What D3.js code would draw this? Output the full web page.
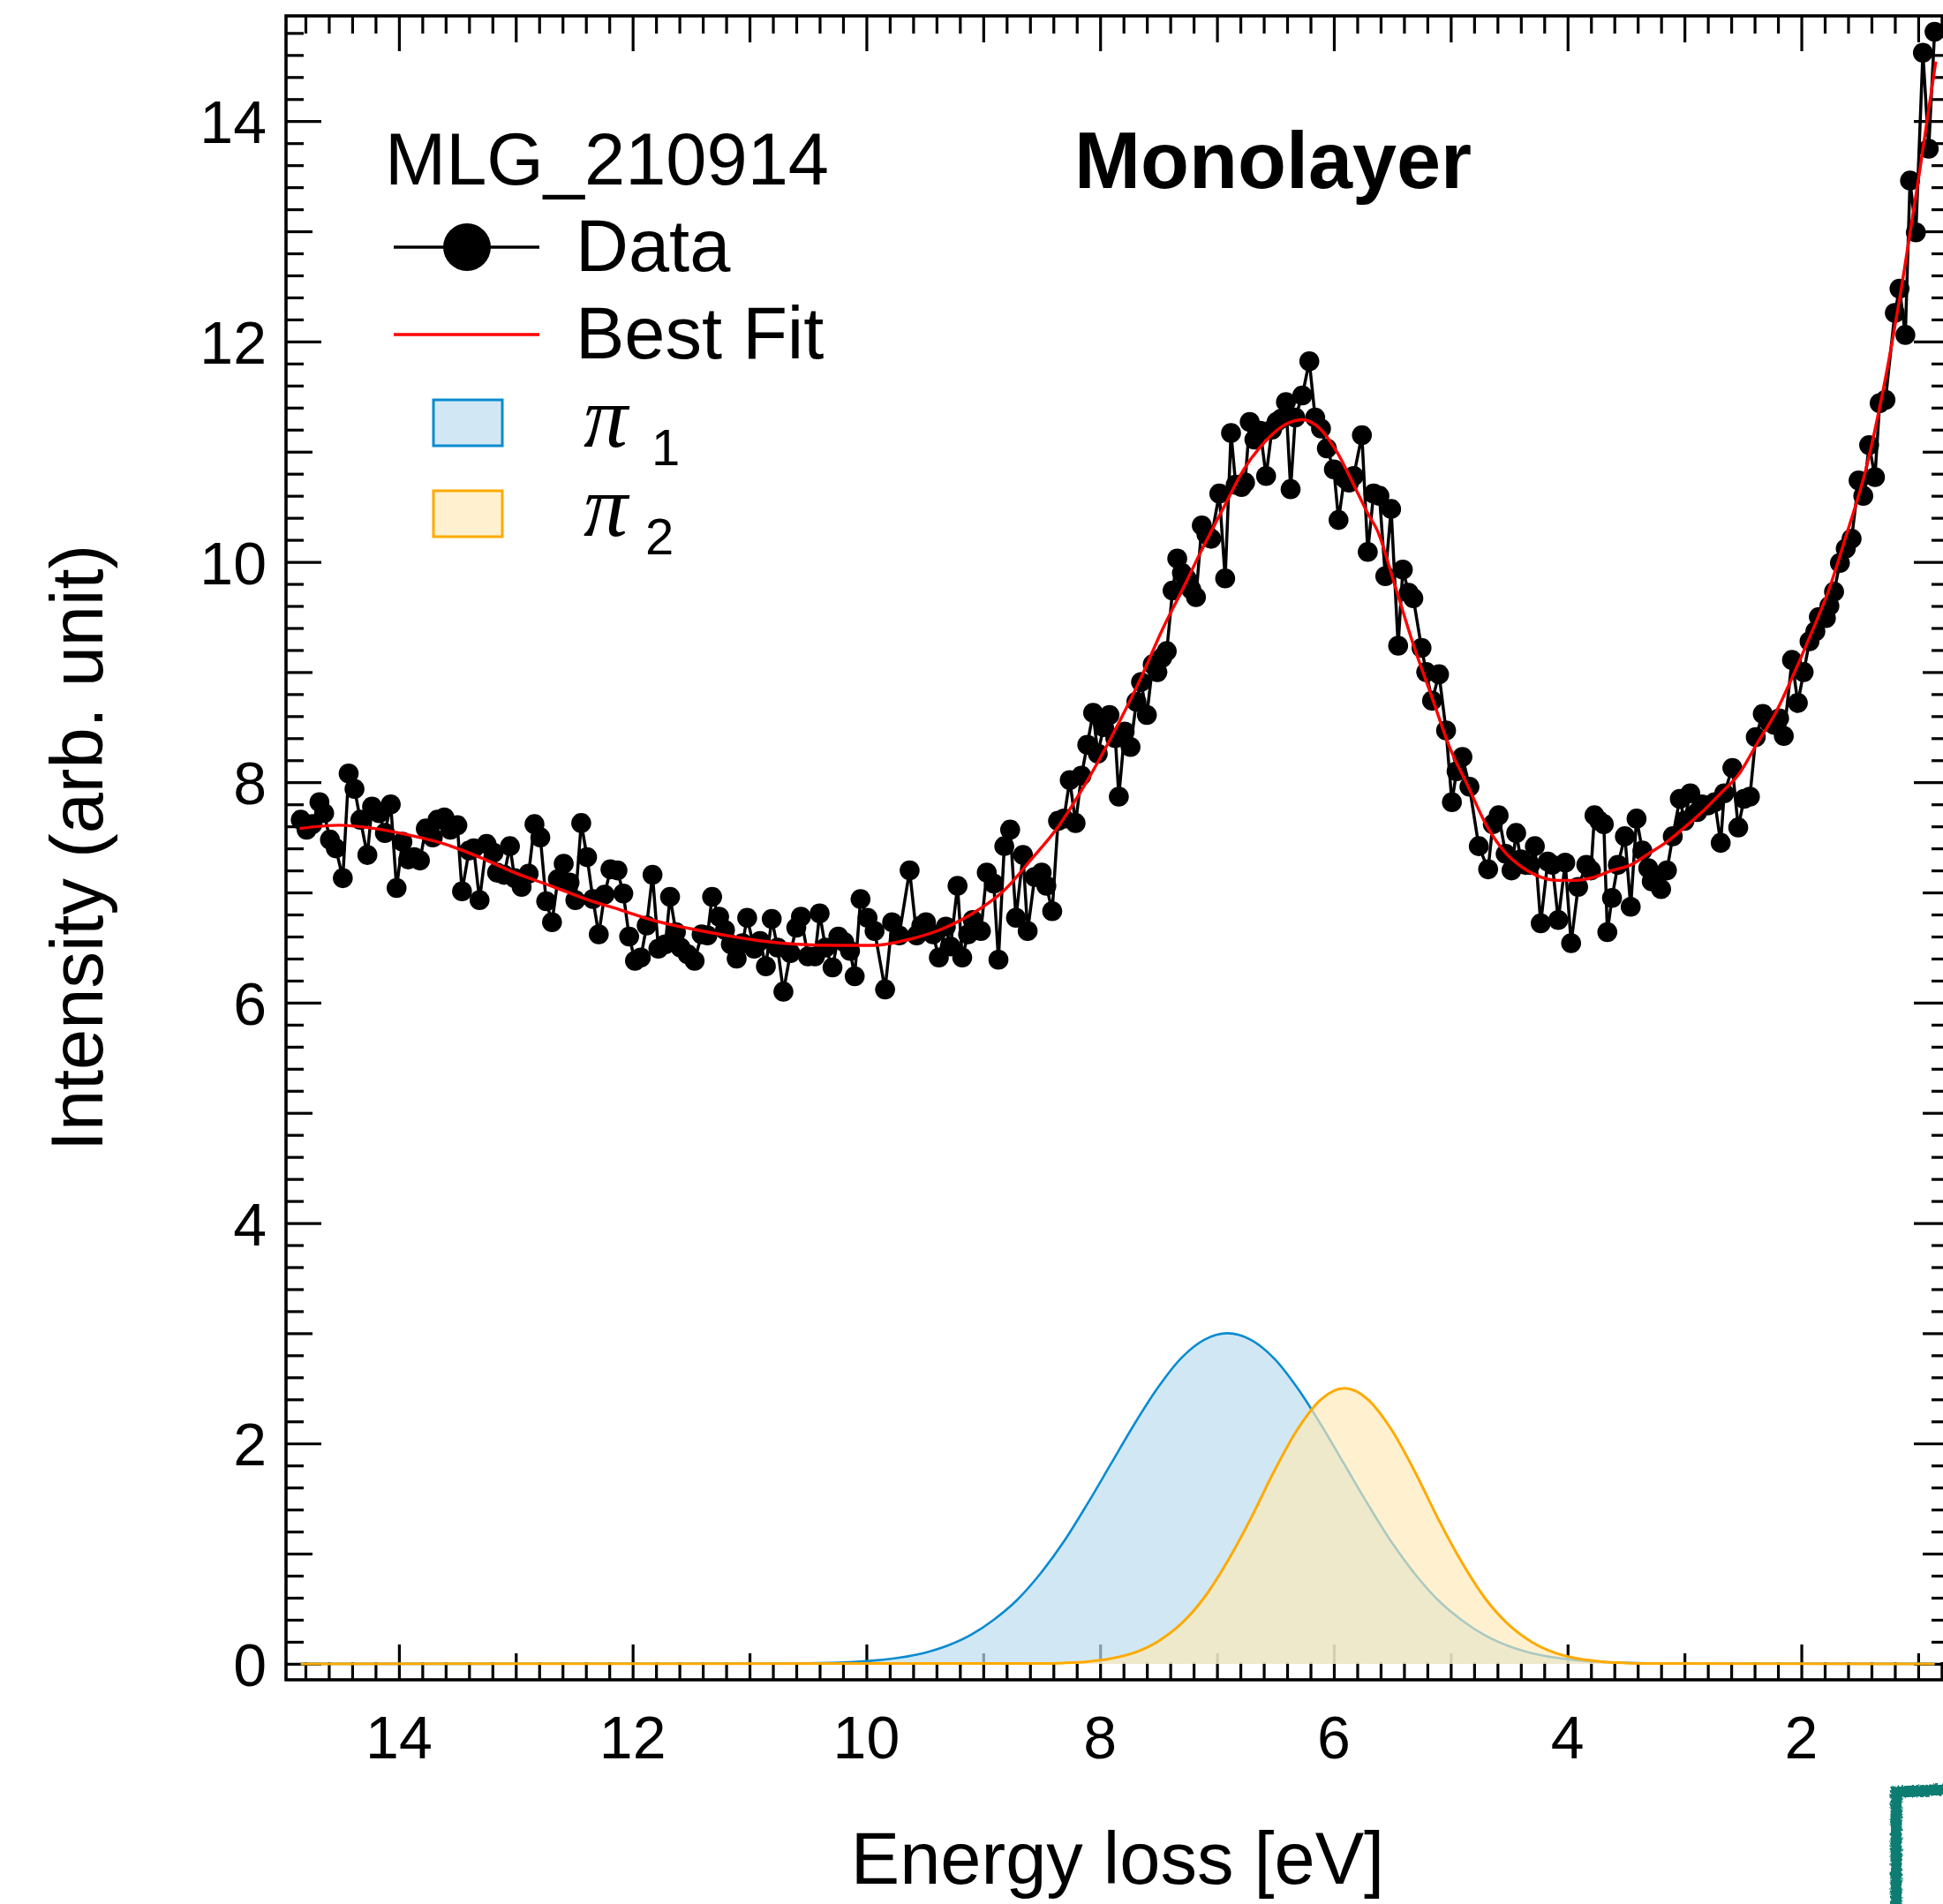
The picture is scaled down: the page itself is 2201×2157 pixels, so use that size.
<!DOCTYPE html>
<html>
<head>
<meta charset="utf-8">
<script src="https://cdn.jsdelivr.net/npm/d3@7"></script>
<style>
html,body{margin:0;padding:0;background:#fff;overflow:hidden}
text{font-family:"Liberation Sans",Helvetica,Arial,sans-serif;fill:#000}
</style>
</head>
<body>
<svg id="chart" width="2201" height="2157"></svg>
<script>
// ---------------- data ----------------
const sampleName = "MLG_210914";
const panelTitle = "Monolayer";
const xTitle = "Energy loss [eV]";
const yTitle = "Intensity (arb. unit)";
const legendLabels = ["Data", "Best Fit", "1", "2"];
const xTickValues = [14, 12, 10, 8, 6, 4, 2];
const yTickValues = [0, 2, 4, 6, 8, 10, 12, 14];

// measured points: [energy loss (eV), intensity]
const dataPoints = [
[14.84,7.66],[14.79,7.57],[14.74,7.62],[14.68,7.82],[14.64,7.72],[14.59,7.48],[14.54,7.40],[14.48,7.13],[14.43,8.08],[14.38,7.94],
[14.33,7.66],[14.27,7.34],[14.23,7.78],[14.17,7.72],[14.12,7.54],[14.07,7.80],[14.02,7.04],[13.97,7.46],[13.92,7.30],[13.87,7.32],
[13.82,7.29],[13.77,7.58],[13.71,7.50],[13.67,7.66],[13.61,7.68],[13.56,7.57],[13.50,7.61],[13.46,7.01],[13.40,7.38],[13.36,7.40],
[13.31,6.93],[13.25,7.44],[13.19,7.36],[13.16,7.18],[13.10,7.16],[13.05,7.42],[13.01,7.13],[12.95,7.05],[12.89,7.17],[12.84,7.62],
[12.79,7.50],[12.74,6.92],[12.69,6.73],[12.64,7.12],[12.59,7.26],[12.54,7.09],[12.49,6.93],[12.44,7.63],[12.39,7.32],[12.34,6.94],
[12.29,6.62],[12.24,6.98],[12.19,7.21],[12.13,7.20],[12.08,6.99],[12.03,6.60],[11.98,6.38],[11.93,6.41],[11.88,6.70],[11.83,7.16],
[11.78,6.49],[11.72,6.53],[11.68,6.96],[11.63,6.64],[11.59,6.50],[11.53,6.44],[11.47,6.38],[11.41,6.62],[11.36,6.61],[11.32,6.96],
[11.26,6.78],[11.21,6.66],[11.16,6.53],[11.11,6.40],[11.06,6.54],[11.02,6.77],[10.96,6.49],[10.91,6.56],[10.86,6.33],[10.81,6.76],
[10.76,6.50],[10.71,6.10],[10.65,6.45],[10.60,6.68],[10.56,6.78],[10.50,6.42],[10.44,6.42],[10.40,6.81],[10.35,6.50],[10.29,6.32],
[10.24,6.60],[10.19,6.55],[10.14,6.47],[10.10,6.24],[10.05,6.94],[9.99,6.77],[9.93,6.65],[9.84,6.12],[9.78,6.73],[9.72,6.61],
[9.63,7.20],[9.57,6.61],[9.53,6.70],[9.49,6.73],[9.43,6.62],[9.38,6.41],[9.32,6.69],[9.28,6.51],[9.22,7.06],[9.18,6.41],
[9.13,6.62],[9.09,6.75],[9.02,6.65],[8.97,7.18],[8.91,7.08],[8.87,6.39],[8.82,7.42],[8.77,7.57],[8.72,6.77],[8.66,7.34],
[8.62,6.65],[8.56,7.14],[8.50,7.18],[8.46,7.06],[8.41,6.83],[8.36,7.65],[8.31,7.67],[8.26,8.02],[8.21,7.63],[8.16,8.06],
[8.11,8.34],[8.06,8.63],[8.02,8.26],[7.97,8.50],[7.92,8.61],[7.87,8.40],[7.84,7.87],[7.79,8.46],[7.74,8.32],[7.69,8.73],
[7.65,8.91],[7.60,8.61],[7.55,9.07],[7.51,9.00],[7.47,9.13],[7.43,9.19],[7.38,9.74],[7.34,10.03],[7.30,9.90],[7.26,9.85],
[7.22,9.75],[7.18,9.68],[7.13,10.33],[7.09,10.25],[7.05,10.21],[6.98,10.62],[6.93,9.85],[6.88,11.17],[6.84,10.70],[6.79,10.68],
[6.76,10.72],[6.72,11.27],[6.68,11.11],[6.63,11.19],[6.58,10.78],[6.53,11.20],[6.49,11.27],[6.45,11.30],[6.41,11.45],[6.37,10.66],
[6.33,11.31],[6.27,11.51],[6.21,11.82],[6.16,11.31],[6.11,11.21],[6.06,11.03],[6.00,10.84],[5.96,10.38],[5.91,10.76],[5.87,10.72],
[5.83,10.78],[5.76,11.15],[5.71,10.09],[5.66,10.62],[5.61,10.60],[5.56,9.87],[5.51,10.48],[5.45,9.24],[5.41,9.93],[5.36,9.72],
[5.32,9.67],[5.25,9.22],[5.21,9.00],[5.16,8.74],[5.10,8.98],[5.04,8.47],[4.99,7.82],[4.95,8.10],[4.90,8.23],[4.84,7.96],
[4.76,7.42],[4.68,7.21],[4.64,7.62],[4.59,7.70],[4.53,7.35],[4.48,7.20],[4.44,7.54],[4.40,7.30],[4.36,7.25],[4.32,7.25],
[4.28,7.42],[4.23,6.72],[4.17,7.28],[4.13,7.25],[4.08,6.75],[4.02,7.27],[3.97,6.54],[3.91,7.05],[3.84,7.25],[3.80,7.20],
[3.77,7.70],[3.73,7.65],[3.69,7.62],[3.66,6.64],[3.62,6.95],[3.57,7.25],[3.51,7.51],[3.46,6.87],[3.41,7.67],[3.36,7.38],
[3.31,7.22],[3.28,7.10],[3.24,7.14],[3.20,7.03],[3.15,7.20],[3.10,7.51],[3.04,7.85],[3.00,7.65],[2.95,7.90],[2.89,7.73],
[2.85,7.80],[2.80,7.79],[2.74,7.82],[2.69,7.45],[2.66,7.90],[2.59,8.13],[2.54,7.59],[2.49,7.85],[2.44,7.87],[2.39,8.41],
[2.33,8.62],[2.28,8.55],[2.23,8.52],[2.19,8.58],[2.15,8.42],[2.08,9.11],[2.03,8.72],[1.98,9.00],[1.93,9.28],[1.88,9.37],
[1.85,9.50],[1.79,9.49],[1.76,9.60],[1.72,9.73],[1.67,9.99],[1.62,10.12],[1.57,10.21],[1.51,10.74],[1.47,10.60],[1.42,11.06],
[1.37,10.77],[1.33,11.44],[1.28,11.47],[1.20,12.26],[1.16,12.48],[1.11,12.06],[1.07,13.46],[1.02,12.99],[0.96,14.62],[0.91,13.75],
[0.86,14.81]
];

// best fit curve
const fitCurve = [
[14.85,7.58],[14.51,7.61],[14.21,7.58],[13.91,7.52],[13.61,7.44],[13.31,7.32],[13.01,7.18],[12.70,7.06],[12.40,6.94],[12.10,6.84],
[11.80,6.74],[11.50,6.67],[11.20,6.61],[10.90,6.56],[10.59,6.53],[10.24,6.52],[9.94,6.52],[9.65,6.57],[9.35,6.67],[9.06,6.83],
[8.82,7.02],[8.59,7.30],[8.35,7.61],[8.18,7.89],[8.00,8.22],[7.83,8.56],[7.65,8.95],[7.47,9.38],[7.30,9.74],[7.12,10.13],
[6.94,10.50],[6.77,10.84],[6.59,11.09],[6.41,11.25],[6.27,11.29],[6.12,11.21],[5.97,10.99],[5.83,10.70],[5.71,10.44],[5.63,10.29],
[5.47,9.76],[5.32,9.25],[5.16,8.77],[5.01,8.32],[4.85,7.96],[4.70,7.62],[4.54,7.37],[4.39,7.23],[4.23,7.14],[4.08,7.11],
[3.93,7.11],[3.77,7.14],[3.62,7.20],[3.46,7.25],[3.31,7.35],[3.15,7.46],[3.00,7.59],[2.84,7.74],[2.69,7.90],[2.53,8.08],
[2.38,8.35],[2.22,8.63],[2.07,8.97],[1.92,9.34],[1.76,9.76],[1.61,10.26],[1.45,10.83],[1.30,11.56],[1.14,12.51],[0.99,13.53],
[0.85,14.54]
];

// pi1 component
const pi1Energy = [14.84,10.71,10.51,10.31,10.11,9.91,9.71,9.51,9.31,9.11,8.91,8.71,8.51,8.31,8.11,7.91,7.71,7.51,7.31,7.11,
  6.91,6.71,6.51,6.31,6.11,5.91,5.71,5.51,5.31,5.11,4.91,4.71,4.51,4.31,4.11,3.91,3.71,3.51,3.31,3.11,0.86];
const pi1Value = [0,0.002,0.004,0.009,0.017,0.032,0.057,0.098,0.163,0.26,0.40,0.58,0.82,1.11,1.45,1.81,2.17,2.50,2.77,2.94,
  3.00,2.94,2.77,2.50,2.17,1.81,1.45,1.11,0.82,0.58,0.40,0.26,0.163,0.098,0.057,0.032,0.017,0.009,0.004,0.002,0];

// pi2 component
const pi2Energy = [14.84,8.51,8.31,8.11,7.91,7.71,7.51,7.31,7.11,6.91,6.71,6.51,6.31,6.11,5.91,5.71,5.51,5.31,5.11,4.91,
  4.71,4.51,4.31,4.11,3.91,3.71,3.51,3.31,0.86];
const pi2Value = [0,0.003,0.008,0.02,0.047,0.10,0.20,0.36,0.60,0.93,1.32,1.75,2.13,2.40,2.50,2.40,2.13,1.75,1.32,0.93,
  0.60,0.36,0.20,0.10,0.047,0.02,0.008,0.003,0];

// ---------------- drawing ----------------
const svg = d3.select("#chart");
const plot = {left: 324, right: 2208, top: 18, bottom: 1903};
const x = d3.scaleLinear().domain([14.966, 0.735]).range([plot.left, plot.right]);
const y = d3.scaleLinear().domain([-0.145, 14.955]).range([plot.bottom, plot.top]);

const COL_BLUE = "#0a8bd0", COL_ORANGE = "#ffaa00";
const FILL_BLUE = "rgb(190,222,240)", FILL_ORANGE = "rgb(255,233,184)";

// ticks (inward on all four sides): minor every 0.2, medium at odd, major at even
const xTickAll = d3.range(4, 75).map(i => i / 5);
const yTickAll = d3.range(0, 75).map(i => i / 5);
function cls(v) { const i = Math.round(v * 5); return i % 10 === 0 ? 40 : (i % 5 === 0 ? 30 : 20); }
const tickG = svg.append("g").attr("class", "ticks");
[20, 30, 40].forEach(len => {
  const xv = xTickAll.filter(v => cls(v) === len);
  const yv = yTickAll.filter(v => cls(v) === len);
  tickG.append("g").attr("transform", `translate(0,${plot.bottom})`).call(d3.axisBottom(x).tickValues(xv).tickSize(-len).tickFormat(""));
  tickG.append("g").attr("transform", `translate(0,${plot.top})`).call(d3.axisTop(x).tickValues(xv).tickSize(-len).tickFormat(""));
  tickG.append("g").attr("transform", `translate(${plot.left},0)`).call(d3.axisLeft(y).tickValues(yv).tickSize(-len).tickFormat(""));
  tickG.append("g").attr("transform", `translate(${plot.right},0)`).call(d3.axisRight(y).tickValues(yv).tickSize(-len).tickFormat(""));
});
tickG.selectAll(".domain").remove();
tickG.selectAll(".tick line").attr("stroke", "#000").attr("stroke-width", 3.2);

// frame
svg.append("rect").attr("x", plot.left).attr("y", plot.top)
  .attr("width", plot.right - plot.left).attr("height", plot.bottom - plot.top)
  .attr("fill", "none").attr("stroke", "#000").attr("stroke-width", 3.6);

// tick labels
svg.append("g").selectAll("text").data(xTickValues).join("text")
  .attr("x", d => x(d)).attr("y", 1992).attr("text-anchor", "middle")
  .attr("font-size", 68).text(d => d);
svg.append("g").selectAll("text").data(yTickValues).join("text")
  .attr("x", 302).attr("y", d => y(d) + 25).attr("text-anchor", "end")
  .attr("font-size", 68).text(d => d);

// axis titles
svg.append("text").attr("x", (plot.left + plot.right) / 2).attr("y", 2134)
  .attr("text-anchor", "middle").attr("font-size", 83).text(xTitle);
svg.append("text").attr("transform", `translate(116,${(plot.top + plot.bottom) / 2}) rotate(-90)`)
  .attr("text-anchor", "middle").attr("font-size", 83).text(yTitle);

// components
const clip = svg.append("clipPath").attr("id", "clip").append("rect")
  .attr("x", plot.left).attr("y", plot.top).attr("width", plot.right - plot.left).attr("height", plot.bottom - plot.top);
const layer = svg.append("g").attr("clip-path", "url(#clip)");

const pi1 = pi1Energy.map((e, i) => [e, pi1Value[i]]);
const pi2 = pi2Energy.map((e, i) => [e, pi2Value[i]]);
const area = d3.area().x(d => x(d[0])).y0(y(0)).y1(d => y(d[1])).curve(d3.curveMonotoneX);
const line = d3.line().x(d => x(d[0])).y(d => y(d[1])).curve(d3.curveMonotoneX);

layer.append("path").datum(pi1).attr("d", area).attr("fill", FILL_BLUE).attr("fill-opacity", 0.7);
layer.append("path").datum(pi1).attr("d", line).attr("fill", "none").attr("stroke", COL_BLUE).attr("stroke-width", 2.6);
layer.append("path").datum(pi2).attr("d", area).attr("fill", FILL_ORANGE).attr("fill-opacity", 0.66);
layer.append("path").datum(pi2).attr("d", line).attr("fill", "none").attr("stroke", COL_ORANGE).attr("stroke-width", 3);

// data
const dataLine = d3.line().x(d => x(d[0])).y(d => y(d[1]));
layer.append("path").datum(dataPoints).attr("d", dataLine)
  .attr("fill", "none").attr("stroke", "#000").attr("stroke-width", 3.5).attr("stroke-linejoin", "round");
layer.append("g").selectAll("circle").data(dataPoints).join("circle")
  .attr("cx", d => x(d[0])).attr("cy", d => y(d[1])).attr("r", 11.3).attr("fill", "#000");

// best fit
layer.append("path").datum(fitCurve).attr("d", line)
  .attr("fill", "none").attr("stroke", "#ff0000").attr("stroke-width", 3.4);

// ---------------- legend / annotations ----------------
svg.append("text").attr("x", 436).attr("y", 209).attr("font-size", 83).text(sampleName);
svg.append("text").attr("x", 1217).attr("y", 213).attr("font-size", 90).attr("font-weight", "bold").text(panelTitle);

const lg = svg.append("g");
lg.append("line").attr("x1", 446).attr("x2", 611).attr("y1", 280).attr("y2", 280).attr("stroke", "#000").attr("stroke-width", 3.5);
lg.append("circle").attr("cx", 529).attr("cy", 280).attr("r", 27).attr("fill", "#000");
lg.append("text").attr("x", 652).attr("y", 307).attr("font-size", 83).text(legendLabels[0]);

lg.append("line").attr("x1", 446).attr("x2", 611).attr("y1", 379).attr("y2", 379).attr("stroke", "#ff0000").attr("stroke-width", 3.5);
lg.append("text").attr("x", 652).attr("y", 406).attr("font-size", 83).text(legendLabels[1]);

lg.append("rect").attr("x", 491).attr("y", 453).attr("width", 78).attr("height", 52)
  .attr("fill", FILL_BLUE).attr("fill-opacity", 0.7).attr("stroke", COL_BLUE).attr("stroke-width", 3);
lg.append("text").attr("x", 661).attr("y", 506).attr("font-size", 100)
  .attr("font-style", "italic").style("font-family", "'Liberation Serif','Times New Roman',serif").text("π");
lg.append("text").attr("x", 738).attr("y", 527).attr("font-size", 58).text(legendLabels[2]);

lg.append("rect").attr("x", 491).attr("y", 556).attr("width", 78).attr("height", 52)
  .attr("fill", FILL_ORANGE).attr("fill-opacity", 0.66).attr("stroke", COL_ORANGE).attr("stroke-width", 3);
lg.append("text").attr("x", 661).attr("y", 607).attr("font-size", 100)
  .attr("font-style", "italic").style("font-family", "'Liberation Serif','Times New Roman',serif").text("π");
lg.append("text").attr("x", 731).attr("y", 628).attr("font-size", 58).text(legendLabels[3]);

// hand-drawn teal corner mark at the bottom right
const defs = svg.append("defs");
const f = defs.append("filter").attr("id", "rough").attr("x", "-20%").attr("y", "-20%").attr("width", "140%").attr("height", "140%");
f.append("feTurbulence").attr("type", "fractalNoise").attr("baseFrequency", 0.35).attr("numOctaves", 2).attr("result", "n");
f.append("feDisplacementMap").attr("in", "SourceGraphic").attr("in2", "n").attr("scale", 5);
svg.append("path").attr("d", "M2148,2160 L2148,2030 L2172,2029 L2205,2027")
  .attr("fill", "none").attr("stroke", "#0a7d72").attr("stroke-width", 13).attr("filter", "url(#rough)");
</script>
</body>
</html>
